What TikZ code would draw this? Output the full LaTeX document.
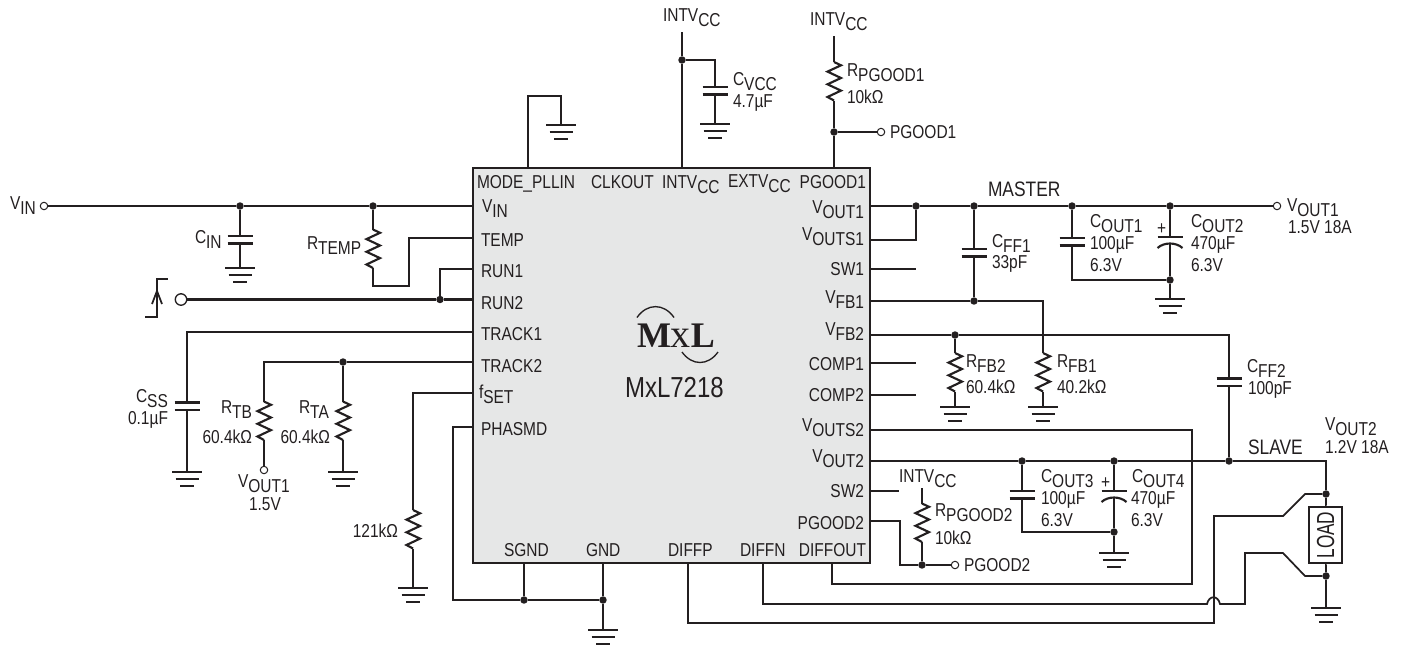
\documentclass[tikz,border=0pt]{standalone}
\usepackage{fontspec}
\setmainfont[FakeStretch=0.83]{Liberation Sans}
\newfontfamily\logofont{Liberation Serif}
\definecolor{ink}{HTML}{231F20}
\definecolor{chipfill}{HTML}{E6E7E7}
\newcommand\Sb[1]{\raisebox{-4.2pt}{#1}}
\newcommand\Bigtxt[1]{{\fontsize{15.7}{18}\selectfont #1}}
\newcommand\Lw[4]{\node[txt,anchor=base west] (#1) at (#2,#3) {#4};}
\newcommand\Le[4]{\node[txt,anchor=base east] (#1) at (#2,#3) {#4};}
\newcommand\Jn[3]{\node[jn] (#1) at (#2,#3) {};}
\newcommand\Oc[3]{\node[oc] (#1) at (#2,#3) {};}
\newcommand\Rv[3]{\coordinate (#1-t) at (#2,#3);
  \draw[comp] (#1-t) -- ++(7,3.3) -- ++(-13.5,6.3) -- ++(13.5,6.4) -- ++(-13.5,6.3) -- ++(13.5,6.3) -- ++(-13.5,6.4) -- ++(6.5,3.5) coordinate (#1-b);}
\newcommand\Cv[3]{\coordinate (#1-t) at (#2,#3);
  \draw[comp] (#1-t) ++(-12.5,0) -- ++(25,0);
  \draw[comp] (#1-t) ++(-12.5,7.5) -- ++(25,0);
  \path (#1-t) ++(0,7.5) coordinate (#1-b);}
\newcommand\CPv[3]{\coordinate (#1-t) at (#2,#3);
  \draw[comp] (#1-t) ++(-12.5,0) -- ++(25,0);
  \draw[comp] (#1-t) ++(-12.5,11) .. controls +(6.5,-6) and +(-6.5,-6) .. +(25,0);
  \path (#1-t) ++(0,6.5) coordinate (#1-b);}
\newcommand\Gnd[3]{\coordinate (#1) at (#2,#3);
  \draw[comp] (#1) ++(-15,0) -- ++(30,0);
  \draw[comp] (#1) ++(-11.5,7) -- ++(23,0);
  \draw[comp] (#1) ++(-7,14) -- ++(14,0);}
\tikzset{
  wire/.style={ink,line width=1.3pt},
  twire/.style={ink,line width=1.7pt},
  comp/.style={ink,line width=1.6pt},
  txt/.style={inner sep=0pt,outer sep=0pt,text=ink,font=\fontsize{14}{16}\selectfont},
  jn/.style={circle,fill=ink,inner sep=0pt,minimum size=5.6pt},
  oc/.style={circle,draw=ink,fill=white,line width=.75pt,inner sep=0pt,minimum size=5.6pt},
  chipbox/.style={draw=ink,fill=chipfill,line width=1.9pt,inner sep=0pt,minimum width=297.75pt,minimum height=296.25pt},
  loadbox/.style={draw=ink,fill=white,line width=1.4pt,inner sep=0pt,rotate=90,minimum width=42pt,minimum height=24.5pt,text=ink,font=\fontsize{18.5}{20}\selectfont}
}
\begin{document}
\begin{tikzpicture}[x=.75pt,y=-.75pt]
\useasboundingbox (0,0) rectangle (1403,647);
% chip
\node[chipbox] (chip) at (671.5,365.5) {};
% chip pins
\foreach \n/\yy in {VIN/206,TEMP/238,RUNa/269,RUNb/299.5,TRKa/332,TRKb/362,FSET/393,PHA/427}
  \coordinate (p\n) at (473,\yy);
\foreach \n/\yy in {VOa/206,VSa/240,SWa/269,FBa/301,FBb/335,CMa/363,CMb/395,VSb/430,VOb/461,SWb/491,PGb/521}
  \coordinate (p\n) at (870,\yy);
\foreach \n/\xx in {MODE/528,INT/682,PGa/834}
  \coordinate (p\n) at (\xx,168);
\foreach \n/\xx in {SG/524,GN/603,DP/688,DN/763,DO/832}
  \coordinate (p\n) at (\xx,563);
% chip labels
\Lw{lmode}{477}{188}{MODE\_PLLIN}
\Lw{lclk}{591}{188}{CLKOUT}
\Lw{lint}{662}{188}{INTV\Sb{CC}}
\Lw{lext}{728}{187}{EXTV\Sb{CC}}
\Le{lpga}{866}{188}{PGOOD1}
\Lw{lvin}{482}{212}{V\Sb{IN}}
\Lw{ltemp}{481}{246}{TEMP}
\Lw{lruna}{481}{277}{RUN1}
\Lw{lrunb}{481}{309}{RUN2}
\Lw{ltra}{481}{340}{TRACK1}
\Lw{ltrb}{481}{372}{TRACK2}
\Lw{lfset}{479}{398}{f\Sb{SET}}
\Lw{lpha}{481}{435}{PHASMD}
\Le{lvoa}{864}{213}{V\Sb{OUT1}}
\Le{lvsa}{864}{240}{V\Sb{OUTS1}}
\Le{lswa}{864}{275}{SW1}
\Le{lfba}{864}{303}{V\Sb{FB1}}
\Le{lfbb}{864}{335}{V\Sb{FB2}}
\Le{lcma}{864}{370}{COMP1}
\Le{lcmb}{864}{401}{COMP2}
\Le{lvsb}{864}{431}{V\Sb{OUTS2}}
\Le{lvob}{864}{462}{V\Sb{OUT2}}
\Le{lswb}{864}{497}{SW2}
\Le{lpgb}{864}{529}{PGOOD2}
\Lw{lsg}{504}{556}{SGND}
\Lw{lgn}{586}{556}{GND}
\Lw{ldp}{668}{556}{DIFFP}
\Lw{ldn}{740}{556}{DIFFN}
\Le{ldo}{866}{556}{DIFFOUT}
\Lw{lname}{625}{397}{\fontsize{21.7}{24}\selectfont MxL7218}
% logo
\node[txt,anchor=base west] (logo) at (637,347) {\logofont\fontsize{27}{30}\selectfont\bfseries M{\mdseries\fontsize{30}{30}\selectfont x}L};
\draw[ink,line width=1pt] (637,317.5) .. controls (647,303) and (664,303) .. (674,317.5);
\draw[ink,line width=1pt] (682,352) .. controls (692,366) and (708,366) .. (718,352);
% VIN rail
\Oc{ovin}{44}{206}
\Jn{jcin}{240}{206}
\Jn{jrt}{373}{206}
\draw[wire] (ovin) -- (jcin) -- (jrt) -- (pVIN);
\Lw{lvinx}{10}{209}{V\Sb{IN}}
\Cv{cin}{240}{236}
\Gnd{gcin}{240}{268}
\draw[wire] (jcin) -- (cin-t) (cin-b) -- (gcin);
\Lw{lcin}{195}{243}{C\Sb{IN}}
\Rv{rtemp}{373}{229.5}
\coordinate (tempc) at (409,286);
\draw[wire] (jrt) -- (rtemp-t);
\draw[wire] (rtemp-b) |- (tempc) |- (pTEMP);
\Lw{lrtemp}{307}{249}{R\Sb{TEMP}}
% RUN
\node[oc,line width=1pt,minimum size=8.6pt] (orun) at (181,299.5) {};
\Jn{jrun}{440}{299.5}
\draw[twire] (orun) -- (jrun) -- (pRUNb);
\draw[wire] (jrun) |- (pRUNa);
\draw[wire] (145,317) -- (157,317) -- (157,279) -- (168,279);
\draw[wire] (152,304) -- (157,291) -- (162,304);
% TRACK1
\Cv{css}{187}{402.5}
\Gnd{gcss}{187}{472}
\draw[wire] (pTRKa) -| (css-t);
\draw[wire] (css-b) -- (gcss);
\Lw{lcss}{136}{402}{C\Sb{SS}}
\Le{lcssv}{168}{424}{0.1µF}
% TRACK2
\Jn{jta}{343}{362}
\Rv{rtb}{264}{401.5}
\Rv{rta}{343}{401.5}
\Oc{ovo}{264}{470}
\Gnd{grta}{343}{472}
\draw[twire] (pTRKb) -- (jta) -| (rtb-t);
\draw[wire] (jta) -- (rta-t);
\draw[twire] (rtb-b) -- (ovo);
\draw[wire] (rta-b) -- (grta);
\Lw{lrtb}{221}{413}{R\Sb{TB}}
\Le{lrtbv}{252}{443}{60.4kΩ}
\Lw{lrta}{299}{413}{R\Sb{TA}}
\Le{lrtav}{330}{443}{60.4kΩ}
\Lw{lvo}{238}{487}{V\Sb{OUT1}}
\Lw{lvov}{249}{510}{1.5V}
% fSET
\Rv{rset}{413}{510}
\Gnd{gset}{413}{588}
\draw[wire] (pFSET) -| (rset-t);
\draw[wire] (rset-b) -- (gset);
\Le{lrset}{398}{537}{121kΩ}
% PHASMD and grounds
\Jn{jsg}{524}{600}
\Jn{jgn}{603}{600}
\Gnd{ggn}{603}{630}
\draw[wire] (pPHA) -| (453,600) -- (jsg) -- (jgn);
\draw[wire] (pSG) -- (jsg);
\draw[wire] (pGN) -- (jgn) -- (ggn);
% MODE
\Gnd{gmode}{561}{125}
\coordinate (modec) at (528,96);
\draw[wire] (pMODE) -- (modec) -| (gmode);
% INTVCC
\coordinate (intt) at (682,32);
\Jn{jint}{682}{60}
\Cv{cvcc}{715}{87}
\Gnd{gvcc}{715}{124}
\draw[wire] (intt) -- (jint) -- (pINT);
\draw[wire] (jint) -| (cvcc-t);
\draw[wire] (cvcc-b) -- (gvcc);
\Lw{lintt}{663}{21}{INTV\Sb{CC}}
\Lw{lcvcc}{733}{85}{C\Sb{VCC}}
\Lw{lcvccv}{733}{107}{4.7µF}
% PGOOD1
\coordinate (pgt) at (834,36);
\Rv{rpga}{834}{62}
\Jn{jpga}{834}{132}
\Oc{opga}{881}{132}
\draw[twire] (pgt) -- (rpga-t);
\draw[twire] (rpga-b) -- (jpga) -- (pPGa);
\draw[wire] (jpga) -- (opga);
\Lw{lintp}{810}{25}{INTV\Sb{CC}}
\Lw{lrpga}{847}{76}{R\Sb{PGOOD1}}
\Lw{lrpgav}{847}{103}{10kΩ}
\Lw{lpgao}{890}{138}{PGOOD1}
% VOUT1 rail
\Jn{jva}{916}{206}
\Jn{jcff}{974}{206}
\Jn{jca}{1072}{206}
\Jn{jcb}{1170}{206}
\Oc{ovoa}{1277}{206}
\draw[wire] (pVOa) -- (jva) -- (jcff) -- (jca) -- (jcb) -- (ovoa);
\draw[wire] (pVSa) -| (jva);
\coordinate (swae) at (916,269);
\coordinate (cmae) at (916,363);
\coordinate (cmbe) at (916,395);
\draw[twire] (pSWa) -- (swae);
\draw[twire] (pCMa) -- (cmae);
\draw[twire] (pCMb) -- (cmbe);
\Lw{lmaster}{988}{196}{\Bigtxt{MASTER}}
\Lw{lvoax}{1287}{211}{V\Sb{OUT1}}
\Lw{lvoav}{1288}{233}{1.5V 18A}
% CFF1
\Cv{cffa}{974}{249}
\Jn{jfba}{974}{301}
\coordinate (fbac) at (1043,353);
\draw[wire] (jcff) -- (cffa-t);
\draw[wire] (cffa-b) -- (jfba);
\draw[wire] (pFBa) -- (jfba) -| (fbac);
\Lw{lcffa}{992}{247}{C\Sb{FF1}}
\Lw{lcffav}{992}{268}{33pF}
% COUT1,2
\Cv{couta}{1072}{238}
\CPv{coutb}{1170}{237}
\Jn{jcg}{1170}{280}
\Gnd{gcg}{1170}{299}
\draw[wire] (jca) -- (couta-t);
\draw[wire] (jcb) -- (coutb-t);
\draw[wire] (couta-b) |- (jcg);
\draw[wire] (coutb-b) -- (jcg) -- (gcg);
\Lw{lplusa}{1157}{234}{+}
\Lw{lcouta}{1090}{227}{C\Sb{OUT1}}
\Lw{lcoutav}{1090}{249}{100µF}
\Lw{lcoutaw}{1090}{271}{6.3V}
\Lw{lcoutb}{1191}{227}{C\Sb{OUT2}}
\Lw{lcoutbv}{1191}{249}{470µF}
\Lw{lcoutbw}{1191}{271}{6.3V}
% RFB
\Jn{jfbb}{955}{335}
\Rv{rfbb}{955}{353}
\Rv{rfba}{1043}{353}
\Gnd{gfbb}{955}{407}
\Gnd{gfba}{1043}{407}
\draw[wire] (jfbb) -- (rfbb-t);
\draw[wire] (rfbb-b) -- (gfbb);
\draw[wire] (rfba-b) -- (gfba);
\Lw{lrfbb}{966}{367}{R\Sb{FB2}}
\Lw{lrfbbv}{966}{393}{60.4kΩ}
\Lw{lrfba}{1057}{367}{R\Sb{FB1}}
\Lw{lrfbav}{1057}{393}{40.2kΩ}
% CFF2 and VFB2
\Cv{cffb}{1229}{378.5}
\Jn{jcffb}{1229}{461}
\draw[wire] (pFBb) -- (jfbb) -| (cffb-t);
\draw[wire] (cffb-b) -- (jcffb);
\Lw{lcffb}{1247}{372}{C\Sb{FF2}}
\Lw{lcffbv}{1248}{394}{100pF}
% VOUT2 rail
\Jn{jcc}{1022}{461}
\Jn{jcd}{1114}{461}
\Jn{jlt}{1326}{494}
\Jn{jlb}{1326}{576}
\node[loadbox] (load) at (1325.5,535) {\scalebox{.84}[1]{LOAD}};
\Gnd{gload}{1326}{608}
\draw[wire] (pVOb) -- (jcc) -- (jcd) -- (jcffb) -| (jlt);
\draw[wire] (jlt) -- (load);
\draw[wire] (load) -- (jlb) -- (gload);
\Lw{lslave}{1248}{454}{\Bigtxt{SLAVE}}
\Lw{lvobx}{1325}{430}{V\Sb{OUT2}}
\Lw{lvobv}{1325}{453}{1.2V 18A}
% COUT3,4
\Cv{coutc}{1022}{491}
\CPv{coutd}{1114}{491}
\Jn{jcdg}{1114}{532}
\Gnd{gcdg}{1114}{553}
\draw[wire] (jcc) -- (coutc-t);
\draw[wire] (jcd) -- (coutd-t);
\draw[wire] (coutc-b) |- (jcdg);
\draw[wire] (coutd-b) -- (jcdg) -- (gcdg);
\Lw{lplusb}{1101}{488}{+}
\Lw{lcoutc}{1041}{482}{C\Sb{OUT3}}
\Lw{lcoutcv}{1041}{504}{100µF}
\Lw{lcoutcw}{1041}{526}{6.3V}
\Lw{lcoutd}{1132}{482}{C\Sb{OUT4}}
\Lw{lcoutdv}{1131}{504}{470µF}
\Lw{lcoutdw}{1131}{526}{6.3V}
% SW2 / PGOOD2
\coordinate (swbe) at (899,491);
\draw[twire] (pSWb) -- (swbe);
\coordinate (rpgt) at (922,488);
\Rv{rpgb}{922}{503.5}
\Jn{jpgb}{922}{565}
\Oc{opgb}{955}{565}
\draw[twire] (rpgt) -- (rpgb-t);
\draw[twire] (rpgb-b) -- (jpgb);
\draw[wire] (pPGb) -| (900,565) -- (jpgb) -- (opgb);
\Lw{lintq}{899}{482}{INTV\Sb{CC}}
\Lw{lrpgb}{935}{516}{R\Sb{PGOOD2}}
\Lw{lrpgbv}{935}{544}{10kΩ}
\Lw{lpgbo}{964}{571}{PGOOD2}
% DIFF
\coordinate (dobr) at (1192,584);
\draw[wire] (pDO) |- (dobr) |- (pVSb);
\coordinate (dpa) at (1214,623);
\coordinate (dpb) at (1214,516);
\coordinate (dpc) at (1283,516);
\coordinate (dpd) at (1305,494);
\draw[wire] (pDP) |- (dpa) -- (dpb) -- (dpc) -- (dpd) -- (jlt);
\coordinate (hopa) at (1207,604);
\coordinate (hopb) at (1220,604);
\coordinate (dnc) at (1245,604);
\coordinate (dnd) at (1245,553);
\coordinate (dne) at (1283,553);
\coordinate (dnf) at (1305,576);
\draw[wire] (pDN) |- (hopa) .. controls (1209,595) and (1218,595) .. (hopb) -- (dnc) -- (dnd) -- (dne) -- (dnf) -- (jlb);
\end{tikzpicture}
\end{document}
